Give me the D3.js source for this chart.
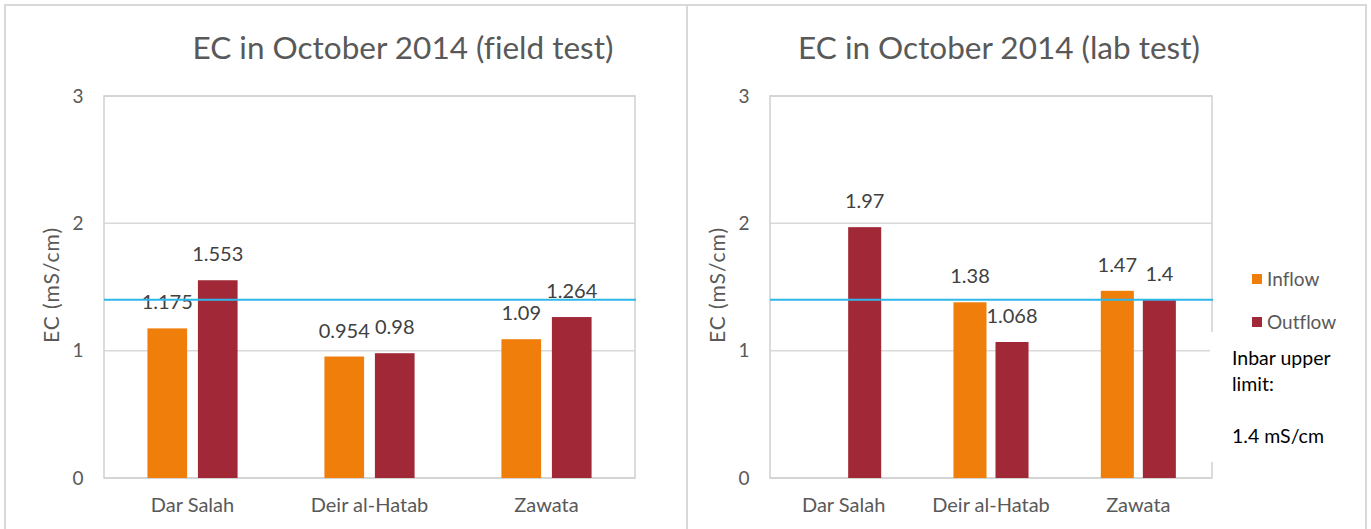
<!DOCTYPE html>
<html>
<head>
<meta charset="utf-8">
<script src="https://cdn.jsdelivr.net/npm/d3@7"></script>
<style>
  body { margin: 0; background: #fff; }
  text { font-family: Lato, "Open Sans", sans-serif; font-variant-ligatures: none; }
</style>
</head>
<body>
<div id="chart"></div>
<script>
var width = 1371,
    height = 529;

// data
var categories = ["Dar Salah", "Deir al-Hatab", "Zawata"];
var series = ["Inflow", "Outflow"];
var fieldInflow = [1.175, 0.954, 1.09];
var fieldOutflow = [1.553, 0.98, 1.264];
var labInflow = [null, 1.38, 1.47];
var labOutflow = [1.97, 1.068, 1.4];
var yTicks = [0, 1, 2, 3];
var limit = 1.4;
var limitText = ["Inbar upper", "limit:", "", "1.4 mS/cm"];

var colors = { Inflow: "#EF7F0A", Outflow: "#A02837" };

var svg = d3.select("#chart").append("svg")
    .attr("width", width)
    .attr("height", height);

// chart frames
var frame = svg.append("g")
    .attr("fill", "none")
    .attr("stroke", "#d9d9d9")
    .attr("stroke-width", 2);
frame.append("path").attr("d", "M5,535V5H687V535");
frame.append("path").attr("d", "M687,5H1366V535");

var y = d3.scaleLinear()
    .domain([0, 3])
    .range([478, 96]);

function drawChart(title, titleX, left, right, inflow, outflow) {
    var g = svg.append("g");

    var x0 = d3.scaleBand()
        .domain(categories)
        .range([left, right]);

    var x1 = d3.scaleBand()
        .domain(series)
        .range([0, x0.bandwidth()])
        .paddingInner(0.214)
        .paddingOuter(0.86);

    // gridlines
    g.append("g").selectAll("line")
        .data(yTicks)
        .enter().append("line")
        .attr("x1", left)
        .attr("x2", right)
        .attr("y1", function (d) { return y(d); })
        .attr("y2", function (d) { return y(d); })
        .attr("stroke", "#d9d9d9")
        .attr("stroke-width", 1.5);

    // plot border
    g.append("rect")
        .attr("x", left)
        .attr("y", y(3))
        .attr("width", right - left)
        .attr("height", y(0) - y(3))
        .attr("fill", "none")
        .attr("stroke", "#d0d0d0")
        .attr("stroke-width", 1.5);

    // tick labels
    g.append("g").selectAll("text")
        .data(yTicks)
        .enter().append("text")
        .attr("x", left - 26)
        .attr("y", function (d) { return y(d); })
        .attr("dy", "0.35em")
        .attr("text-anchor", "middle")
        .attr("fill", "#595959")
        .attr("font-size", 19)
        .text(function (d) { return d; });

    // axis title
    g.append("text")
        .attr("transform", "translate(" + (left - 52) + "," + (y(1.5) - 2) + ") rotate(-90)")
        .attr("dy", "0.35em")
        .attr("text-anchor", "middle")
        .attr("fill", "#595959")
        .attr("font-size", 21)
        .attr("letter-spacing", 1)
        .text("EC (mS/cm)");

    // category labels
    g.append("g").selectAll("text")
        .data(categories)
        .enter().append("text")
        .attr("x", function (d) { return x0(d) + x0.bandwidth() / 2; })
        .attr("y", 512)
        .attr("text-anchor", "middle")
        .attr("fill", "#595959")
        .attr("font-size", 20)
        .text(function (d) { return d; });

    var rows = [];
    categories.forEach(function (c, i) {
        if (inflow[i] != null) rows.push({ cat: c, s: "Inflow", v: inflow[i] });
        if (outflow[i] != null) rows.push({ cat: c, s: "Outflow", v: outflow[i] });
    });

    g.append("g").selectAll("rect")
        .data(rows)
        .enter().append("rect")
        .attr("x", function (d) { return x0(d.cat) + x1(d.s); })
        .attr("y", function (d) { return y(d.v); })
        .attr("width", x1.bandwidth())
        .attr("height", function (d) { return y(0) - y(d.v); })
        .attr("fill", function (d) { return colors[d.s]; });

    g.append("g").selectAll("text")
        .data(rows)
        .enter().append("text")
        .attr("x", function (d) { return x0(d.cat) + x1(d.s) + x1.bandwidth() / 2; })
        .attr("y", function (d) { return y(d.v) - 19; })
        .attr("text-anchor", "middle")
        .attr("fill", "#404040")
        .attr("font-size", 20)
        .text(function (d) { return d.v; });

    // limit line
    g.append("line")
        .attr("x1", left)
        .attr("x2", right + 1)
        .attr("y1", y(limit))
        .attr("y2", y(limit))
        .attr("stroke", "#2db7ea")
        .attr("stroke-width", 2);

    // title
    g.append("text")
        .attr("x", titleX)
        .attr("y", 59)
        .attr("text-anchor", "middle")
        .attr("fill", "#595959")
        .attr("font-size", 31.5)
        .text(title);
}

drawChart("EC in October 2014 (field test)", 403, 104, 635, fieldInflow, fieldOutflow);
drawChart("EC in October 2014 (lab test)", 999, 770, 1212, labInflow, labOutflow);

// legend
var legend = svg.append("g").selectAll("g")
    .data(series)
    .enter().append("g")
    .attr("transform", function (d, i) { return "translate(1252," + (279 + i * 43) + ")"; });

legend.append("rect")
    .attr("x", 0)
    .attr("y", -5)
    .attr("width", 10)
    .attr("height", 10)
    .attr("fill", function (d) { return colors[d]; });

legend.append("text")
    .attr("x", 15)
    .attr("dy", "0.35em")
    .attr("fill", "#595959")
    .attr("font-size", 19)
    .text(function (d) { return d; });

// text box over the plot corner
svg.append("rect")
    .attr("x", 1210)
    .attr("y", 332)
    .attr("width", 152)
    .attr("height", 130)
    .attr("fill", "#fff");

svg.append("g").selectAll("text")
    .data(limitText)
    .enter().append("text")
    .attr("x", 1232)
    .attr("y", function (d, i) { return 365 + i * 26; })
    .attr("fill", "#000")
    .attr("font-size", 19.5)
    .text(function (d) { return d; });
</script>
</body>
</html>
